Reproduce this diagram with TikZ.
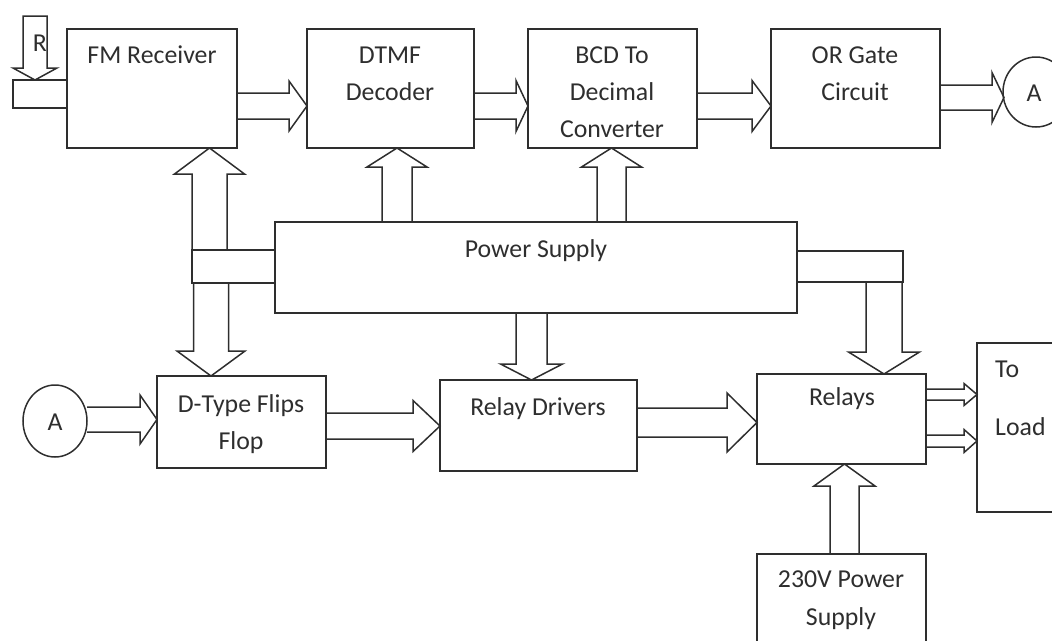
\documentclass[tikz,border=0pt]{standalone}
\usepackage{fontspec}
\setmainfont{Carlito}
\usetikzlibrary{shapes.geometric}
\begin{document}
\begin{tikzpicture}[x=1pt,y=-1pt,
  ln/.style={line width=1.5pt, draw=black!82, line join=miter},
  box/.style={ln, draw, rectangle, inner sep=0pt, outer sep=0pt, anchor=north west},
  txt/.style={inner sep=0pt, anchor=base, text=black!82, font=\fontsize{25.8}{30}\selectfont},
  ltxt/.style={txt, anchor=base west}]
\useasboundingbox (0,0) rectangle (1052,640);
\clip (0,0) rectangle (1052,640);
% horizontal block arrow: x-start, x-headbase, x-tip, y-centre, shaft half, head half
\newcommand\rarr[6]{\draw[ln] (#1,{#4-#5}) -- (#2,{#4-#5}) -- (#2,{#4-#6}) -- (#3,#4) -- (#2,{#4+#6}) -- (#2,{#4+#5}) -- (#1,{#4+#5});}
% vertical block arrow: y-start, y-headbase, y-tip, x-centre, shaft half, head half
\newcommand\varr[6]{\draw[ln] ({#4-#5},#1) -- ({#4-#5},#2) -- ({#4-#6},#2) -- (#4,#3) -- ({#4+#6},#2) -- ({#4+#5},#2) -- ({#4+#5},#1);}

% boxes
\node[box, minimum width=170pt, minimum height=119pt] (fm) at (67,29) {};
\node[box, minimum width=167pt, minimum height=119pt] (dtmf) at (307,29) {};
\node[box, minimum width=169pt, minimum height=119pt] (bcd) at (528,29) {};
\node[box, minimum width=169pt, minimum height=119pt] (orc) at (771,29) {};
\node[box, minimum width=522pt, minimum height=91pt] (ps) at (275,222) {};
\node[box, minimum width=169pt, minimum height=92pt] (dff) at (157,376) {};
\node[box, minimum width=197pt, minimum height=91pt] (rd) at (440,380) {};
\node[box, minimum width=169pt, minimum height=90pt] (rel) at (757,374) {};
\node[box, minimum width=83pt, minimum height=33pt] (lbus) at (192,250) {};
\node[box, minimum width=106pt, minimum height=31pt] (rbus) at (797,251) {};
\node[box, minimum width=54pt, minimum height=28pt] (rin) at (13,80) {};
\node[ln, draw, ellipse, minimum width=66pt, minimum height=70pt, inner sep=0pt] (aout) at (1036,92) {};
\node[ln, draw, ellipse, minimum width=64pt, minimum height=72pt, inner sep=0pt] (ain) at (55,421) {};
\draw[ln] (1060,343) -- (977,343) -- (977,512) -- (1060,512);
\draw[ln] (757,660) -- (757,554) -- (926,554) -- (926,660);
\coordinate (load) at (977,420);
\coordinate (pw) at (841,554);

% texts
\node[txt] (t1) at (152,63) {FM Receiver};
\node[txt] (t2) at (390,63) {DTMF};
\node[txt] at (390,100) {Decoder};
\node[txt] (t3) at (612,63) {BCD To};
\node[txt] at (612,100) {Decimal};
\node[txt] at (612,137) {Converter};
\node[txt] (t4) at (855,63) {OR Gate};
\node[txt] at (855,100) {Circuit};
\node[txt] (t5) at (536,257) {Power Supply};
\node[txt] (t6) at (241,412) {D-Type Flips};
\node[txt] at (241,449) {Flop};
\node[txt] (t7) at (538,415) {Relay Drivers};
\node[txt] (t8) at (842,405) {Relays};
\node[ltxt] (t9) at (995,377) {To};
\node[ltxt] at (995,435) {Load};
\node[txt] (t10) at (841,587) {230V Power};
\node[txt] at (841,625) {Supply};
\node[txt] at (1034,101) {A};
\node[txt] at (55,430) {A};
\node[txt] (tr) at (40,51) {R};

% block arrows
\draw[ln] (23,68) -- (23,16) -- (47,16) -- (47,68) -- (57,68) -- (35,80) -- (13,68) -- cycle;
\rarr{237}{289}{307}{106}{13}{25}
\rarr{474}{516}{528}{106}{13}{25.5}
\rarr{697}{752}{771}{106}{13}{25.5}
\rarr{940}{992}{1004}{97.5}{12.5}{25}
\rarr{87}{140}{157}{419.5}{12.5}{24.5}
\rarr{326}{413}{440}{426}{13}{25.5}
\rarr{637}{727}{757}{422.5}{14.5}{29.5}
\rarr{926}{964}{977}{394.5}{5.5}{11}
\rarr{926}{964}{977}{441}{6}{11.5}
\varr{250}{174}{148}{209.5}{17.5}{35}
\varr{283}{351}{376}{211}{17.5}{34}
\varr{222}{167}{148}{397}{15}{30}
\varr{222}{167}{148}{611.5}{14.5}{30}
\varr{313}{364}{380}{531.5}{15.5}{31}
\varr{282}{352}{374}{884}{18}{35.5}
\varr{554}{486}{464}{844.5}{14.5}{30.5}
\end{tikzpicture}
\end{document}
